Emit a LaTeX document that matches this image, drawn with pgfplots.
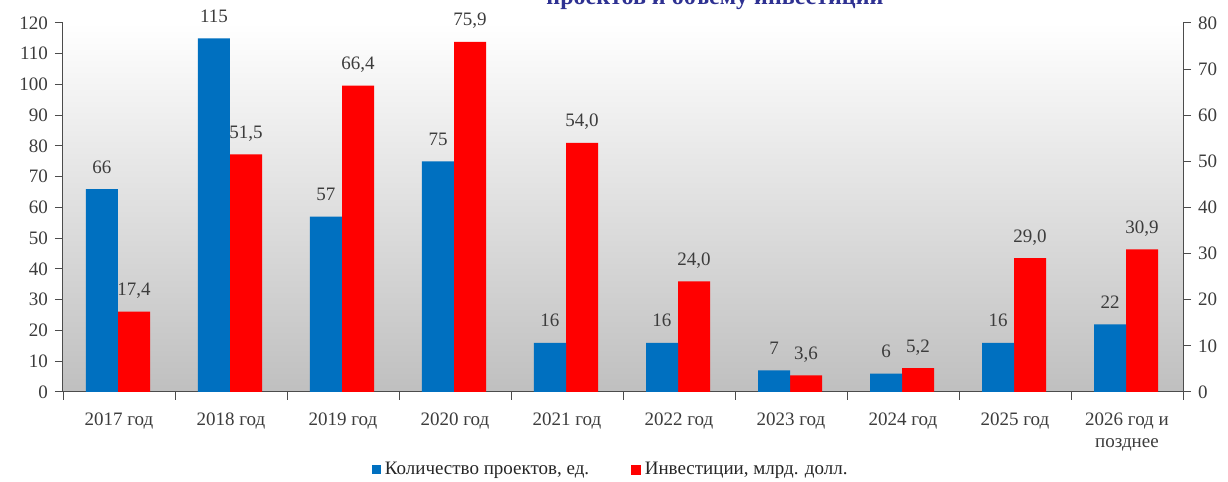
\documentclass[border=0pt]{standalone}
\usepackage{pgfplots}
\pgfplotsset{compat=1.18}
\usepackage{fontspec}
\setmainfont{Liberation Serif}
\definecolor{barblue}{RGB}{0,112,192}
\definecolor{barred}{RGB}{255,0,0}
\definecolor{txt}{RGB}{60,60,60}
\definecolor{ttl}{RGB}{46,49,146}
\begin{document}
\begin{tikzpicture}
\path[use as bounding box] (0,0) rectangle (614pt,241pt);
\pgfplotsset{common/.style={
 at={(31.5pt,45pt)}, anchor=south west, scale only axis, width=560pt, height=184.5pt,
 xmin=-0.5, xmax=9.5, ymin=0,
 /pgf/number format/assume math mode=true,
 tick label style={font=\fontsize{9.5}{11}\selectfont, text=txt},
 axis line style={draw=black!70, line width=0.5pt},
 tick style={draw=black!70, line width=0.5pt},
 major tick length=4pt, minor tick length=4pt, tick align=outside,
 clip=false,
 every node near coord/.append style={font=\fontsize{9.5}{11}\selectfont, text=txt, anchor=base, yshift=8pt},
}}
% right axis: investments
\begin{axis}[common,
 axis background/.style={shade, top color=white, bottom color=gray!50},
 axis y line*=right, axis x line*=bottom,
 ymax=80, ytick={0,10,...,80},
 xtick={0,...,9},
 xticklabels={2017 год,2018 год,2019 год,2020 год,2021 год,2022 год,2023 год,2024 год,2025 год,{2026 год и\\позднее}},
 xticklabel style={align=center, yshift=-3pt},
 major x tick style={draw=none},
 minor xtick={-0.5,0.5,...,9.5},
]
\addplot[ybar, bar width=16pt, bar shift=7.5pt, fill=barred, draw=none,
 every node near coord/.append style={xshift=7.5pt},
 nodes near coords={\pgfmathprintnumber[fixed,fixed zerofill,precision=1,use comma,assume math mode=true]{\pgfplotspointmeta}}]
 coordinates {(0,17.4) (1,51.5) (2,66.4) (3,75.9) (4,54.0) (5,24.0) (6,3.6) (7,5.2) (8,29.0) (9,30.9)};
\end{axis}
% left axis: number of projects
\begin{axis}[common,
 axis y line*=left, axis x line=none,
 ymax=120, ytick={0,10,...,120},
 legend style={at={(0.49,-0.211)}, anchor=center, draw=none, fill=none,
   font=\fontsize{9.5}{11}\selectfont, text=black!85, legend columns=2,
   /tikz/every even column/.append style={column sep=19pt}},
 legend cell align=left,
]
\addplot[ybar, bar width=16pt, bar shift=-8.5pt, fill=barblue, draw=none,
 every node near coord/.append style={xshift=-8.5pt},
 nodes near coords,
 legend image code/.code={\fill[barblue] (0pt,-2.2pt) rectangle (4.4pt,2.2pt);}]
 coordinates {(0,66) (1,115) (2,57) (3,75) (4,16) (5,16) (6,7) (7,6) (8,16) (9,22)};
\addlegendentry{Количество проектов, ед.}
\addlegendimage{legend image code/.code={\fill[barred] (0pt,-2.2pt) rectangle (4.4pt,2.2pt);}}
\addlegendentry{Инвестиции, млрд. долл.}
\end{axis}
\node[overlay, anchor=base, font=\bfseries\fontsize{12}{14}\selectfont, text=ttl] at (357.5pt,238.5pt) {проектов и объему инвестиций};
\end{tikzpicture}
\end{document}
